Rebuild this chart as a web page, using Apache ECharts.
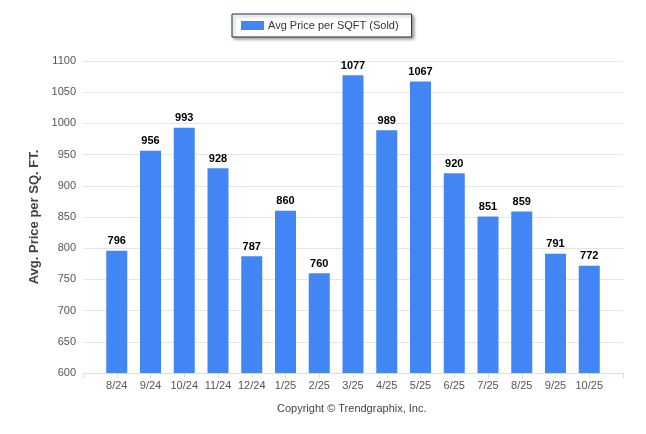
<!DOCTYPE html>
<html><head><meta charset="utf-8">
<script src="https://cdn.jsdelivr.net/npm/echarts@6/dist/echarts.min.js"></script>
<style>html,body{margin:0;padding:0;background:#fff}#c{width:646px;height:434px}</style>
</head><body><div id="c"></div>
<script>
var categories = ['8/24','9/24','10/24','11/24','12/24','1/25','2/25','3/25','4/25','5/25','6/25','7/25','8/25','9/25','10/25'];
var values = [796,956,993,928,787,860,760,1077,989,1067,920,851,859,791,772];
var seriesName = 'Avg Price per SQFT (Sold)';
var yTitle = 'Avg. Price per SQ. FT.';
var footer = 'Copyright \u00A9 Trendgraphix, Inc.';

// pad axis with an empty slot at each end (axis runs from one slot before the first month to one after the last)
var axisCats = [''].concat(categories).concat(['']);
var axisVals = [null].concat(values).concat([null]);

var chart = echarts.init(document.getElementById('c'), null, {renderer:'canvas'});
chart.setOption({
  animation:false,
  textStyle:{fontFamily:'Liberation Sans, Arial, sans-serif'},
  legend:{
    data:[seriesName], left:232, top:14, itemWidth:23, itemHeight:9, itemGap:5,
    padding:[6,13,6,9],
    borderColor:'#1c2b46', borderWidth:1, backgroundColor:'#fff',
    shadowColor:'rgba(0,0,0,0.35)', shadowBlur:3, shadowOffsetX:2, shadowOffsetY:2,
    icon:'rect',
    textStyle:{fontSize:11,color:'#333',padding:[0,0,0,-1],fontFamily:'Liberation Sans, Arial, sans-serif'}
  },
  grid:{left:83,right:23,top:61,bottom:61,containLabel:false},
  xAxis:{
    type:'category', data:axisCats, boundaryGap:false,
    axisLine:{lineStyle:{color:'#ddd'}},
    axisTick:{show:true,length:5,interval:0,lineStyle:{color:'#ddd'}},
    axisLabel:{color:'#555',fontSize:11,margin:7,interval:0}
  },
  yAxis:{
    type:'value', min:600, max:1100, interval:50,
    name:yTitle, nameLocation:'middle', nameGap:37,
    nameTextStyle:{fontSize:13,fontWeight:'bold',color:'#444'},
    axisLine:{show:false}, axisTick:{show:false},
    splitLine:{lineStyle:{color:'#e6e6e6'}},
    axisLabel:{color:'#555',fontSize:11,margin:7,formatter:function(v){return String(v);}}
  },
  graphic:[{type:'text',left:277,top:403,style:{text:footer,fontSize:11,fill:'#444',fontFamily:'Liberation Sans, Arial, sans-serif'}}],
  series:[{
    name:seriesName, type:'bar', data:axisVals, barWidth:21,
    itemStyle:{color:'#4285f4'},
    label:{show:true,position:'top',distance:4,color:'#000',fontWeight:'bold',fontSize:11}
  }]
});
</script></body></html>
